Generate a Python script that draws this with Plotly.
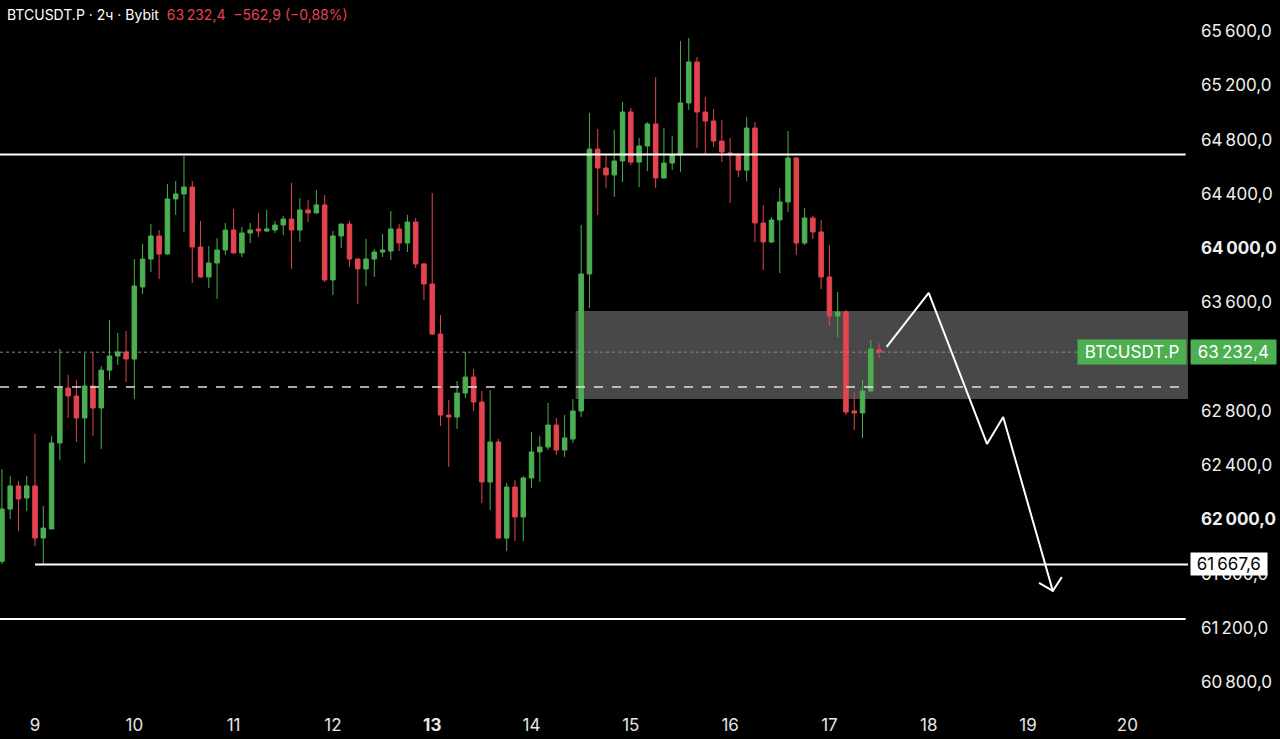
import pandas as pd
import plotly.graph_objects as go

# 2h candles, BTCUSDT.P (Bybit)
times = pd.date_range("2024-06-08 16:00", periods=107, freq="2h")

opens = [61690, 62076, 62246, 62157, 62246, 61862, 61929, 62563, 62968, 62909,
         62747, 62983, 62821, 63100, 63204, 63234, 63182, 63713, 63919, 64089,
         63956, 64362, 64399, 64450, 64008, 63787, 63890, 63986, 64133, 63964,
         64111, 64141, 64126, 64133, 64170, 64214, 64133, 64281, 64259, 64318,
         63765, 64089, 64177, 63919, 63846, 63919, 63971, 63978, 64141, 64037,
         64192, 63883, 63735, 63366, 62769, 62754, 62931, 63049, 62865, 62275,
         62570, 61862, 62238, 62017, 62305, 62497, 62533, 62695, 62511, 62592,
         62799, 63809, 64730, 64590, 64539, 64642, 65003, 64634, 64753, 64915,
         64517, 64627, 64686, 65070, 65372, 65003, 64937, 64789, 64701, 64686,
         64575, 64885, 64185, 64045, 64207, 64340, 64664, 64037, 64222, 64119,
         63787, 63499, 63529, 62799, 62784, 62946, 63250]
highs = [62370, 62319, 62283, 62319, 62629, 62098, 62614, 63256, 63064, 63027,
         63227, 63234, 63131, 63470, 63374, 63389, 63919, 64030, 64177, 64133,
         64472, 64494, 64679, 64494, 64200, 64015, 64074, 64185, 64288, 64155,
         64185, 64259, 64281, 64200, 64236, 64480, 64369, 64354, 64428, 64391,
         64126, 64180, 64200, 63925, 64067, 63993, 64104, 64273, 64177, 64244,
         64222, 63890, 64406, 63506, 62880, 63020, 63234, 63108, 62946, 62953,
         62592, 62268, 62290, 62319, 62644, 62614, 62858, 62747, 62769, 62887,
         64170, 64996, 64878, 64686, 64871, 65077, 65033, 64812, 64929, 65261,
         64885, 64826, 65527, 65549, 65409, 65114, 65025, 64944, 64812, 64701,
         64966, 64929, 64318, 64229, 64443, 64863, 64671, 64295, 64236, 64207,
         64023, 63676, 63543, 62939, 63027, 63322, 63300]
lows = [61670, 62002, 61914, 62061, 61803, 61667.6, 61929, 62437, 62747, 62570,
        62415, 62614, 62519, 63027, 63138, 63013, 62887, 63661, 63824, 63772,
        63950, 64244, 64119, 63742, 63780, 63706, 63625, 63949, 63960, 63934,
        64037, 64082, 64119, 64111, 64096, 63846, 64045, 64192, 64255, 63750,
        63654, 64001, 63861, 63588, 63720, 63787, 63934, 63912, 63978, 63971,
        63853, 63617, 63359, 62688, 62386, 62666, 62895, 62799, 62120, 62069,
        61855, 61766, 61840, 61840, 62231, 62275, 62511, 62474, 62460, 62563,
        62754, 63558, 64244, 64443, 64377, 64487, 64612, 64450, 64568, 64443,
        64510, 64575, 64561, 65018, 64738, 64686, 64745, 64634, 64332, 64524,
        64494, 64045, 63838, 64037, 63816, 64266, 63949, 64023, 64067, 63698,
        63425, 63344, 62769, 62659, 62600, 62940, 63189]
closes = [62076, 62246, 62150, 62246, 61862, 61936, 62563, 62968, 62909, 62747,
          62983, 62821, 63100, 63204, 63234, 63182, 63720, 63919, 64089, 63956,
          64362, 64399, 64450, 64008, 63787, 63890, 63986, 64133, 63964, 64111,
          64133, 64126, 64141, 64170, 64214, 64133, 64281, 64259, 64318, 63765,
          64089, 64177, 63919, 63846, 63919, 63971, 63986, 64141, 64037, 64192,
          63883, 63735, 63366, 62769, 62754, 62931, 63049, 62865, 62275, 62570,
          61862, 62238, 62017, 62305, 62497, 62533, 62695, 62511, 62600, 62799,
          63809, 64730, 64590, 64539, 64642, 65003, 64634, 64753, 64915, 64517,
          64627, 64686, 65070, 65372, 65003, 64937, 64789, 64708, 64686, 64575,
          64885, 64185, 64045, 64207, 64340, 64664, 64037, 64222, 64119, 63787,
          63499, 63529, 62791, 62784, 62946, 63256, 63232.4]

# drawn levels
resistance = 64690
support = 61667.6
lower_level = 61265
mid_level = 62975
zone_low, zone_high = 62887, 63536
last_price = 63232.4

# hand-drawn forecast path
arrow_time = ["2024-06-17 13:50", "2024-06-18 00:00", "2024-06-18 14:05",
              "2024-06-18 18:00", "2024-06-19 06:00"]
arrow_price = [63272, 63669, 62556, 62754, 61472]
head_time = ["2024-06-19 02:40", "2024-06-19 06:00", "2024-06-19 08:10"]
head_price = [61531, 61472, 61575]

day_ticks = pd.date_range("2024-06-09", "2024-06-20", freq="D")
day_text = [str(d.day) if d.day != 13 else "<b>13</b>" for d in day_ticks]
# 63 200 sits under the live price label, so it is left out
price_ticks = [60800, 61200, 61600, 62000, 62400, 62800, 63600,
               64000, 64400, 64800, 65200, 65600]


def fmt(v, bold=True):
    s = f"{v:,.1f}".replace(",", "\u202f").replace(".", ",")
    return f"<b>{s}</b>" if bold and v % 2000 == 0 else s


GREEN = "#4caf50"
RED = "#e5434f"

fig = go.Figure()

fig.add_trace(go.Candlestick(
    x=times, open=opens, high=highs, low=lows, close=closes,
    increasing=dict(line=dict(color=GREEN, width=1), fillcolor=GREEN),
    decreasing=dict(line=dict(color=RED, width=1), fillcolor=RED),
    whiskerwidth=0, hoverinfo="skip", showlegend=False))

fig.add_trace(go.Scatter(x=arrow_time, y=arrow_price, mode="lines",
                         line=dict(color="white", width=2), hoverinfo="skip",
                         showlegend=False))
fig.add_trace(go.Scatter(x=head_time, y=head_price, mode="lines",
                         line=dict(color="white", width=2), hoverinfo="skip",
                         showlegend=False))

x_start = "2024-06-08 15:32"
x_end = "2024-06-20 14:40"

# grey zone
fig.add_shape(type="rect", xref="x", yref="y", x0="2024-06-14 10:40", x1=x_end,
              y0=zone_low, y1=zone_high, fillcolor="rgba(110,110,110,0.65)",
              line_width=0, layer="below")
# levels
fig.add_shape(type="line", xref="paper", yref="y", x0=0, x1=0.998,
              y0=resistance, y1=resistance, line=dict(color="white", width=2))
fig.add_shape(type="line", xref="x", yref="y", x0="2024-06-09 00:00", x1=x_end,
              y0=support, y1=support, line=dict(color="white", width=2))
fig.add_shape(type="line", xref="paper", yref="y", x0=0, x1=0.998,
              y0=lower_level, y1=lower_level, line=dict(color="white", width=2))
fig.add_shape(type="line", xref="paper", yref="y", x0=0, x1=0.993,
              y0=mid_level, y1=mid_level,
              line=dict(color="#e0e0e0", width=1.5, dash="dash"))
fig.add_shape(type="line", xref="paper", yref="y", x0=0, x1=0.91,
              y0=last_price, y1=last_price,
              line=dict(color="#8a8a8a", width=1, dash="dot"))

# price labels
fig.add_annotation(xref="paper", yref="y", x=0.999, y=last_price, xanchor="right",
                   text=" BTCUSDT.P ", showarrow=False, bgcolor=GREEN,
                   font=dict(color="white", size=17, family="Inter"),
                   borderpad=2)
fig.add_annotation(xref="paper", yref="y", x=1.002, y=last_price, xanchor="left",
                   text=" " + fmt(last_price, False) + " ",
                   showarrow=False, bgcolor=GREEN,
                   font=dict(color="white", size=17, family="Inter"),
                   borderpad=2)
fig.add_annotation(xref="paper", yref="y", x=1.002, y=support, xanchor="left",
                   text=" " + fmt(support, False) + " ",
                   showarrow=False, bgcolor="white",
                   font=dict(color="black", size=17, family="Inter"),
                   borderpad=1)

# header
fig.add_annotation(xref="paper", yref="paper", x=0.004, y=0.994,
                   xanchor="left", yanchor="top", showarrow=False,
                   text="BTCUSDT.P · 2ч · Bybit  <span style='color:#e5434f'>"
                        "63\u202f232,4  −562,9 (−0,88%)</span>",
                   font=dict(color="white", size=14, family="Inter"))

fig.update_layout(
    width=1280, height=739,
    paper_bgcolor="black", plot_bgcolor="black",
    margin=dict(l=0, r=92, t=0, b=34),
    boxgap=0.22,
    font=dict(family="Inter", color="white"),
    xaxis=dict(range=[x_start, x_end], rangeslider=dict(visible=False),
               showgrid=False, zeroline=False, showline=False,
               tickvals=day_ticks, ticktext=day_text, ticks="",
               ticklabelstandoff=8,
               tickfont=dict(size=17, color="#e6e6e6")),
    yaxis=dict(range=[60631, 65829], side="right", showgrid=False,
               zeroline=False, showline=False, ticks="",
               tickvals=price_ticks, ticktext=[fmt(v) for v in price_ticks],
               ticklabelstandoff=12, tickfont=dict(size=17, color="#f0f0f0")),
)

fig.write_html("out.html", config={"displayModeBar": False},
               post_script="document.body.style.margin='0';"
                           "document.body.style.background='black';")
